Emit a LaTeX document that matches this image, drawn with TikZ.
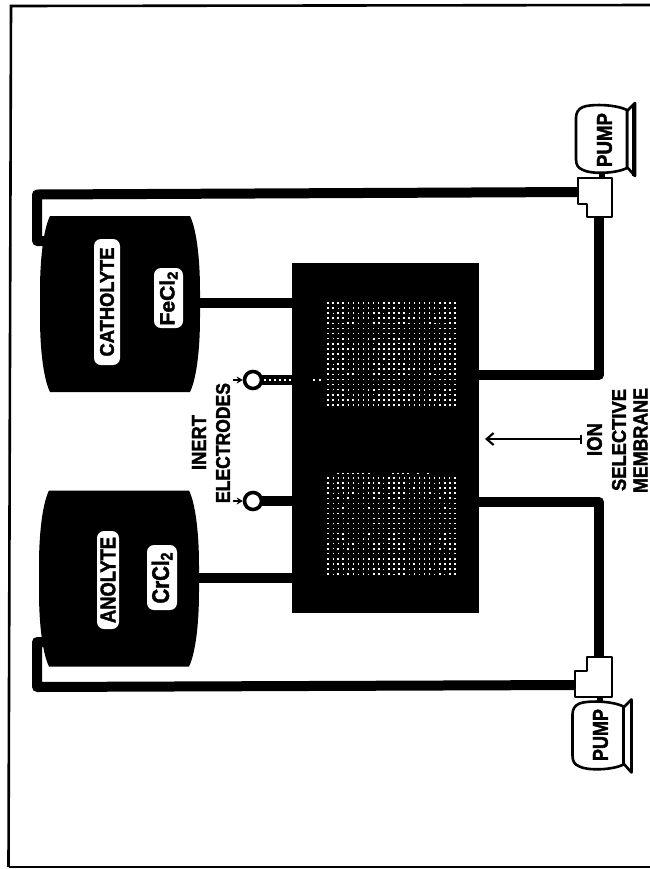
\documentclass[tikz,border=0pt]{standalone}
\usepackage{fontspec}
\usepackage{graphicx}
\setmainfont[BoldFeatures={FakeBold=2}]{Liberation Sans}
\usetikzlibrary{arrows.meta}
\newdimen\px \px=0.75pt
\newcommand{\fit}[3]{\resizebox*{#1\px}{#2\px}{\bfseries #3}}
\newcommand{\pumpshape}{%
  \draw[outl,fill=white] (627,111) -- (635,103) -- (635,176) -- (627,167) -- cycle;
  \draw[outl,fill=white] (627,110) .. controls (615,104) and (590,104) .. (583,107)
    .. controls (578,109) and (576,113) .. (576,118) -- (576,159)
    .. controls (576,165) and (578,168) .. (583,170)
    .. controls (590,174) and (615,174) .. (627,168) -- cycle;
}
\newcommand{\tankshape}{%
  \fill (50,0) -- (190,0) .. controls (196,12) and (200,40) .. (200,75) -- (200,101)
    .. controls (200,136) and (196,164) .. (190,176) -- (50,176)
    .. controls (44,164) and (40,136) .. (40,101) -- (40,75)
    .. controls (40,40) and (44,12) .. (50,0) -- cycle;
}
\tikzset{
  pipe/.style={line width=7.5pt,line join=round,line cap=butt},
  outl/.style={line width=1.95pt,line join=round},
  pill/.style={rotate=90,fill=white,rounded corners=5.25pt,inner sep=0pt,draw=none},
  lab/.style={rotate=90,inner sep=0pt},
  elec/.style={circle,draw,fill=white,line width=2.7pt,minimum size=12.75pt,inner sep=0pt},
  cellbox/.style={fill=black,inner sep=0pt,minimum width=140.25pt,minimum height=262.5pt},
  thinpipe/.style={line width=4.1pt},
  pointer/.style={line width=1.1pt,-{Stealth[length=4.5pt,width=5.25pt]}},
  memb/.style={line width=1.4pt,{Bar[width=6.75pt,line width=1.4pt]}-{Straight Barb[length=5.25pt,width=9pt,line width=1.6pt]}}
}
\begin{document}
\begin{tikzpicture}[x=0.75pt,y=-0.75pt]
\useasboundingbox (0,0) rectangle (650,869);
\clip (0,0) rectangle (650,869);
% frame
\draw[line width=1.95pt] (650,5) -- (11,6) -- (8.5,867);
\draw[line width=1.2pt] (8.5,867) -- (650,867);

% named ports
\coordinate (catOut) at (200,303);
\coordinate (anoOut) at (198,578);
\coordinate (catRet) at (46,241);
\coordinate (catBend) at (37,241);
\coordinate (catCorner) at (37,194.5);
\coordinate (catTee) at (578,192);
\coordinate (anoRet) at (46,642);
\coordinate (anoBend) at (37,642);
\coordinate (anoCorner) at (37,687);
\coordinate (anoTee) at (575,685);
\coordinate (upTeeBot) at (599,217);
\coordinate (upCorner) at (599,375);
\coordinate (loTeeTop) at (599,657);
\coordinate (loCorner) at (599,502);
\coordinate (upStubA) at (602,172);
\coordinate (upStubB) at (602,178);
\coordinate (loStubA) at (600,697);
\coordinate (loStubB) at (600,703);
\coordinate (ionTail) at (582,439);
\coordinate (ionTip) at (485,439);
\coordinate (arT) at (233,380);
\coordinate (arB) at (233,501);
\coordinate (elTport) at (253,380);
\coordinate (elBport) at (253,501);

% cell
\node[cellbox] (cell) at (385.5,438) {};

% pipes
\draw[pipe] (catOut) -- (catOut -| cell.west);
\draw[pipe] (anoOut) -- (anoOut -| cell.west);
\draw[pipe] (catRet) -- (catBend) -- (catCorner) -- (catTee);
\draw[pipe] (anoRet) -- (anoBend) -- (anoCorner) -- (anoTee);
\draw[pipe] (upTeeBot) -- (upCorner) -- (upCorner -| cell.east);
\draw[pipe] (loTeeTop) -- (loCorner) -- (loCorner -| cell.east);
\draw[thinpipe] (upStubA) -- (upStubB);
\draw[thinpipe] (loStubA) -- (loStubB);

% tanks
\begin{scope}[shift={(0,216)}]\tankshape\end{scope}
\begin{scope}[shift={(-1,490.5)}]\tankshape\end{scope}

% tees
\draw[outl,fill=white] (578,178) -- (612,178) -- (612,217) -- (587,217) -- (587,204) -- (578,204) -- cycle;
\draw[outl,fill=white] (587,657) -- (612,657) -- (612,697) -- (575,697) -- (575,671) -- (587,671) -- cycle;

% pumps
\pumpshape
\draw[line width=3pt] (634,104) -- (634,176);
\begin{scope}[shift={(-3.5,596.5)}]\pumpshape\end{scope}
\node[lab] (pumpU) at (604.5,140) {\fit{54}{15}{PUMP}};
\node[lab] (pumpL) at (600.5,735) {\fit{52}{15}{PUMP}};

% stipple
\foreach \i in {0,...,25}{\foreach \j in {0,...,20}{
  \pgfmathsetmacro\s{0.55+0.09*mod(\i*\i*7+\j*11+\i*\j*3,5)}
  \fill[white] ({328+5.08*\i-\s},{303+5.1*\j-\s}) rectangle ({328+5.08*\i+\s},{303+5.1*\j+\s});
}}
\foreach \i in {0,...,25}{\foreach \j in {0,...,19}{
  \pgfmathsetmacro\s{0.55+0.09*mod(\i*\i*5+\j*13+\i*\j*7,5)}
  \fill[white] ({328+5.08*\i-\s},{478+5.06*\j-\s}) rectangle ({328+5.08*\i+\s},{478+5.06*\j+\s});
}}
\foreach \x in {338,343,348,353,358,363,369,393,398,403,408,418,428}{
  \fill[white] ({\x-0.6},472.6) rectangle ({\x+0.6},474);
}

% electrodes
\draw[pipe] (elTport) -- (elTport -| cell.west);
\draw[pipe] (elBport) -- (elBport -| cell.west);
\foreach \x in {265,270,275,280,285,290,314,320}{
  \fill[white] ({\x-0.55},379.45) rectangle ({\x+0.55},380.55);
}
\node[elec] (elecT) at (elTport) {};
\node[elec] (elecB) at (elBport) {};
\draw[pointer] (arT) -- (elecT.west);
\draw[pointer] (arB) -- (elecB.west);

% membrane pointer
\draw[memb] (ionTail) -- (ionTip);

% tank labels
\node[pill,minimum width=94.5pt,minimum height=19.5pt] (pillCat) at (107,302) {\fit{109}{14}{CATHOLYTE}};
\node[pill,minimum width=45pt,minimum height=21.75pt] (pillFe) at (168.5,298) {\fit{55}{18}{FeCl\textsubscript{2}}};
\node[pill,minimum width=73.5pt,minimum height=16.5pt] (pillAno) at (108,580) {\fit{86}{15}{ANOLYTE}};
\node[pill,minimum width=48.75pt,minimum height=22.5pt] (pillCr) at (162,577.5) {\fit{52}{21}{CrCl\textsubscript{2}}};

% free labels
\node[lab] (tInert) at (199,442.5) {\fit{55}{14}{INERT}};
\node[lab] (tElec) at (223,443) {\fit{120}{14}{ELECTRODES}};
\node[lab] (tIon) at (594.5,439.5) {\fit{33}{15}{ION}};
\node[lab] (tSel) at (619,440) {\fit{102}{14}{SELECTIVE}};
\node[lab] (tMem) at (640.5,440.5) {\fit{105}{14}{MEMBRANE}};
\end{tikzpicture}
\end{document}
